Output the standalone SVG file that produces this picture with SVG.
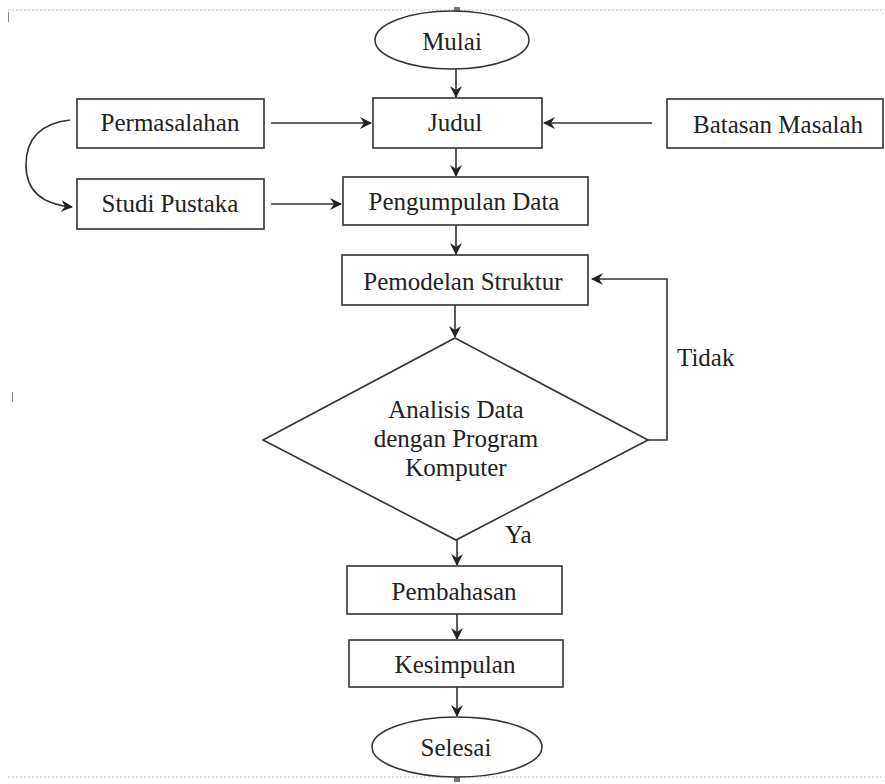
<svg xmlns="http://www.w3.org/2000/svg" width="885" height="784" viewBox="0 0 885 784">
<defs>
<style>
.box{fill:#fff;stroke:#333;stroke-width:1.6}
.t{font-family:"Liberation Serif","Times New Roman",serif;font-size:25px;fill:#222;text-anchor:middle}
.tl{font-family:"Liberation Serif","Times New Roman",serif;font-size:25px;fill:#222}
.c{fill:none;stroke:#333;stroke-width:1.6}
.sel{fill:none;stroke:#bbb;stroke-width:1;stroke-dasharray:2 2}
</style>
<marker id="ah" viewBox="0 0 12 12" refX="11" refY="6" markerWidth="12" markerHeight="12" markerUnits="userSpaceOnUse" orient="auto">
<path d="M0,0 L12,6 L0,12 L4,6 z" fill="#222"/>
</marker>
</defs>
<rect width="885" height="784" fill="#fff"/>
<g id="selection">
<line class="sel" x1="8" y1="10" x2="885" y2="10"/>
<line class="sel" x1="8" y1="777" x2="885" y2="777"/>
<line x1="8.5" y1="12" x2="8.5" y2="22" stroke="#888" stroke-width="1"/>
<line x1="12.5" y1="392" x2="12.5" y2="402" stroke="#888" stroke-width="1"/>
<rect x="454" y="7" width="6" height="6" fill="#777"/>
<rect x="454" y="775" width="6" height="7" fill="#777"/>
</g>
<g id="connectors">
<line class="c" x1="456" y1="69" x2="456" y2="97" marker-end="url(#ah)"/>
<line class="c" x1="271" y1="123" x2="371" y2="123" marker-end="url(#ah)"/>
<line class="c" x1="652" y1="123" x2="544" y2="123" marker-end="url(#ah)"/>
<path class="c" d="M70,120 Q26,125 26,165 Q26,203 72,207" marker-end="url(#ah)"/>
<line class="c" x1="456" y1="148" x2="456" y2="176" marker-end="url(#ah)"/>
<line class="c" x1="271" y1="204" x2="341" y2="204" marker-end="url(#ah)"/>
<line class="c" x1="456" y1="225" x2="456" y2="254" marker-end="url(#ah)"/>
<line class="c" x1="455" y1="305" x2="455" y2="337" marker-end="url(#ah)"/>
<polyline class="c" points="648,440 667,440 667,279 592,279" marker-end="url(#ah)"/>
<line class="c" x1="457" y1="540" x2="457" y2="565" marker-end="url(#ah)"/>
<line class="c" x1="457" y1="614" x2="457" y2="639" marker-end="url(#ah)"/>
<line class="c" x1="457" y1="687" x2="457" y2="716" marker-end="url(#ah)"/>
<text class="tl" x="677" y="366">Tidak</text>
<text class="tl" x="505" y="543">Ya</text>
</g>
<g id="mulai">
<ellipse class="box" cx="452" cy="40" rx="77" ry="29"/>
<text class="t" x="452" y="50">Mulai</text>
</g>
<g id="judul">
<rect class="box" x="373" y="98" width="169" height="50"/>
<text class="t" x="455" y="131">Judul</text>
</g>
<g id="permasalahan">
<rect class="box" x="77" y="99" width="187" height="49"/>
<text class="t" x="170" y="131">Permasalahan</text>
</g>
<g id="batasan">
<rect class="box" x="667" y="99" width="216" height="49"/>
<text class="t" x="778" y="133">Batasan Masalah</text>
</g>
<g id="studi">
<rect class="box" x="77" y="179" width="187" height="50"/>
<text class="t" x="170" y="212">Studi Pustaka</text>
</g>
<g id="pengumpulan">
<rect class="box" x="343" y="177" width="245" height="48"/>
<text class="t" x="464" y="210">Pengumpulan Data</text>
</g>
<g id="pemodelan">
<rect class="box" x="342" y="255" width="246" height="50"/>
<text class="t" x="463" y="290">Pemodelan Struktur</text>
</g>
<g id="analisis">
<polygon class="box" points="455,338 648,440 456,540 263,440"/>
<text class="t" x="456" y="418">Analisis Data</text>
<text class="t" x="456" y="447">dengan Program</text>
<text class="t" x="456" y="476">Komputer</text>
</g>
<g id="pembahasan">
<rect class="box" x="347" y="566" width="215" height="48"/>
<text class="t" x="454" y="600">Pembahasan</text>
</g>
<g id="kesimpulan">
<rect class="box" x="349" y="640" width="214" height="47"/>
<text class="t" x="455" y="673">Kesimpulan</text>
</g>
<g id="selesai">
<ellipse class="box" cx="457" cy="747" rx="85" ry="30"/>
<text class="t" x="456" y="756">Selesai</text>
</g>
</svg>
